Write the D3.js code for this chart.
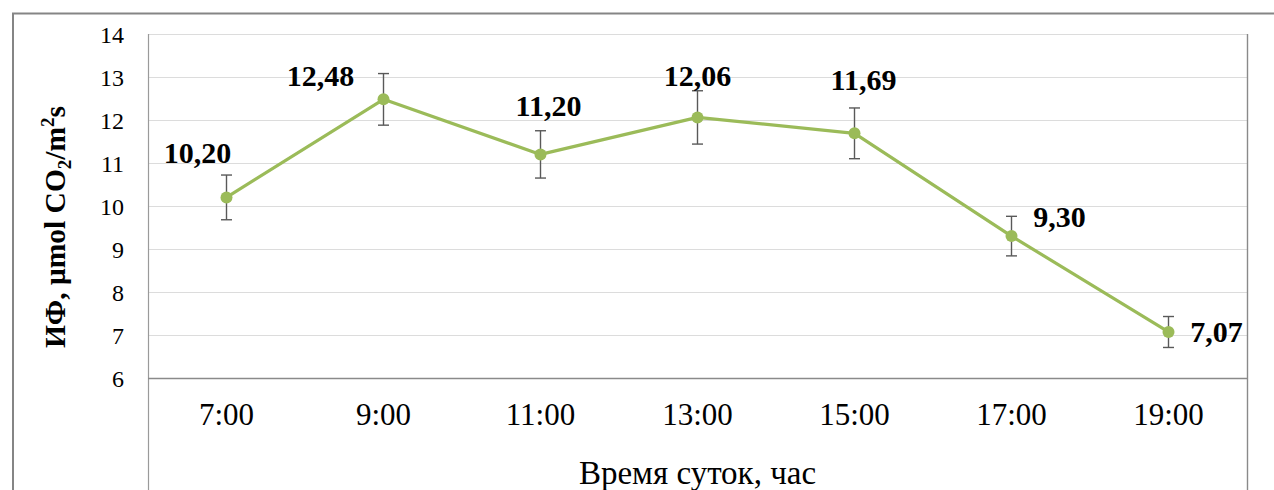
<!DOCTYPE html>
<html>
<head>
<meta charset="utf-8">
<script src="https://cdn.jsdelivr.net/npm/d3@7/dist/d3.min.js"></script>
<style>
  html, body { margin: 0; padding: 0; background: #fff; }
  svg { display: block; }
</style>
</head>
<body>
<svg id="chart" width="1274" height="490"></svg>
<script>
// Photosynthesis intensity over the day
const hours = ["7:00", "9:00", "11:00", "13:00", "15:00", "17:00", "19:00"];
const values = [10.20, 12.48, 11.20, 12.06, 11.69, 9.30, 7.07];
const errors = [0.52, 0.60, 0.55, 0.62, 0.59, 0.46, 0.36];
const yTicks = [6, 7, 8, 9, 10, 11, 12, 13, 14];

// value label placement relative to its point (dx, dy)
const labelOffsets = [[-29, -45], [-63, -24], [8, -49], [0, -42], [9, -54], [48, -19], [48, 0]];

const svg = d3.select("#chart");
const W = 1274, H = 490;
const plot = { left: 148, right: 1247, top: 34, bottom: 378 };
const SERIF = "Liberation Serif";

// outer chart frame
svg.append("path")
  .attr("d", `M13,${H + 2} L13,13.5 L${W + 2},13.5`)
  .attr("fill", "none").attr("stroke", "#858585").attr("stroke-width", 2);

const x = d3.scaleBand().domain(hours).range([plot.left, plot.right]);
const y = d3.scaleLinear().domain([6, 14]).range([plot.bottom, plot.top]);

// horizontal gridlines
svg.append("g").selectAll("line").data(yTicks.filter(t => t > 6)).join("line")
  .attr("x1", plot.left).attr("x2", plot.right)
  .attr("y1", d => y(d) + 0.5).attr("y2", d => y(d) + 0.5)
  .attr("stroke", "#dcdcdc").attr("stroke-width", 1.2);

// plot area side lines
svg.append("line").attr("x1", plot.left + 0.5).attr("x2", plot.left + 0.5)
  .attr("y1", plot.top).attr("y2", H).attr("stroke", "#9a9a9a").attr("stroke-width", 1.2);
svg.append("line").attr("x1", plot.right + 0.5).attr("x2", plot.right + 0.5)
  .attr("y1", plot.top).attr("y2", H).attr("stroke", "#8a8a8a").attr("stroke-width", 1.4);

// x axis line
svg.append("line").attr("x1", plot.left).attr("x2", plot.right)
  .attr("y1", plot.bottom + 0.5).attr("y2", plot.bottom + 0.5)
  .attr("stroke", "#8a8a8a").attr("stroke-width", 1.4);

// y tick labels
const yAxis = d3.axisLeft(y).tickValues(yTicks).tickSize(0).tickPadding(24);
const gy = svg.append("g").attr("transform", `translate(${plot.left},0)`).call(yAxis);
gy.attr("font-family", SERIF).attr("font-size", 24);
gy.select(".domain").remove();
gy.selectAll("text").attr("fill", "#000").attr("dy", "0.34em");

// x tick labels
const xAxis = d3.axisBottom(x).tickSize(0).tickPadding(25);
const gx = svg.append("g").attr("transform", `translate(0,${plot.bottom})`).call(xAxis);
gx.attr("font-family", SERIF).attr("font-size", 31);
gx.select(".domain").remove();
gx.selectAll("text").attr("fill", "#000");

// axis titles
svg.append("text")
  .attr("x", (plot.left + plot.right) / 2).attr("y", 484)
  .attr("text-anchor", "middle")
  .attr("font-family", SERIF).attr("font-size", 33).attr("fill", "#000")
  .text("Время суток, час");

const yTitle = svg.append("text")
  .attr("transform", "translate(65,227) rotate(-90)")
  .attr("text-anchor", "middle")
  .attr("font-family", SERIF).attr("font-size", 29.5).attr("font-weight", "bold").attr("fill", "#000");
yTitle.append("tspan").text("ИФ, μmol CO");
yTitle.append("tspan").attr("font-size", 19).attr("dy", 6).text("2");
yTitle.append("tspan").attr("dy", -6).text("/m");
yTitle.append("tspan").attr("font-size", 19).attr("dy", -11).text("2");
yTitle.append("tspan").attr("dy", 11).text("s");

const cx = d => x(d) + x.bandwidth() / 2;
const pts = hours.map((h, i) => ({ h, v: values[i], e: errors[i], i }));

// error bars
const eb = svg.append("g").attr("stroke", "#595959").attr("stroke-width", 1.4);
pts.forEach(p => {
  const xc = cx(p.h);
  eb.append("line").attr("x1", xc).attr("x2", xc).attr("y1", y(p.v + p.e)).attr("y2", y(p.v - p.e));
  eb.append("line").attr("x1", xc - 5.5).attr("x2", xc + 5.5).attr("y1", y(p.v + p.e)).attr("y2", y(p.v + p.e));
  eb.append("line").attr("x1", xc - 5.5).attr("x2", xc + 5.5).attr("y1", y(p.v - p.e)).attr("y2", y(p.v - p.e));
});

// series line
svg.append("path").datum(pts)
  .attr("fill", "none").attr("stroke", "#9bbb59").attr("stroke-width", 3.2)
  .attr("stroke-linejoin", "round")
  .attr("d", d3.line().x(p => cx(p.h)).y(p => y(p.v)));

// markers
svg.append("g").selectAll("circle").data(pts).join("circle")
  .attr("cx", p => cx(p.h)).attr("cy", p => y(p.v)).attr("r", 6)
  .attr("fill", "#9bbb59");

// value labels
svg.append("g").selectAll("text").data(pts).join("text")
  .attr("x", p => cx(p.h) + labelOffsets[p.i][0])
  .attr("y", p => y(p.v) + labelOffsets[p.i][1])
  .attr("dy", "0.34em")
  .attr("text-anchor", "middle")
  .attr("font-family", SERIF).attr("font-size", 30).attr("font-weight", "bold").attr("fill", "#000")
  .text(p => d3.format(".2f")(p.v).replace(".", ","));
</script>
</body>
</html>
